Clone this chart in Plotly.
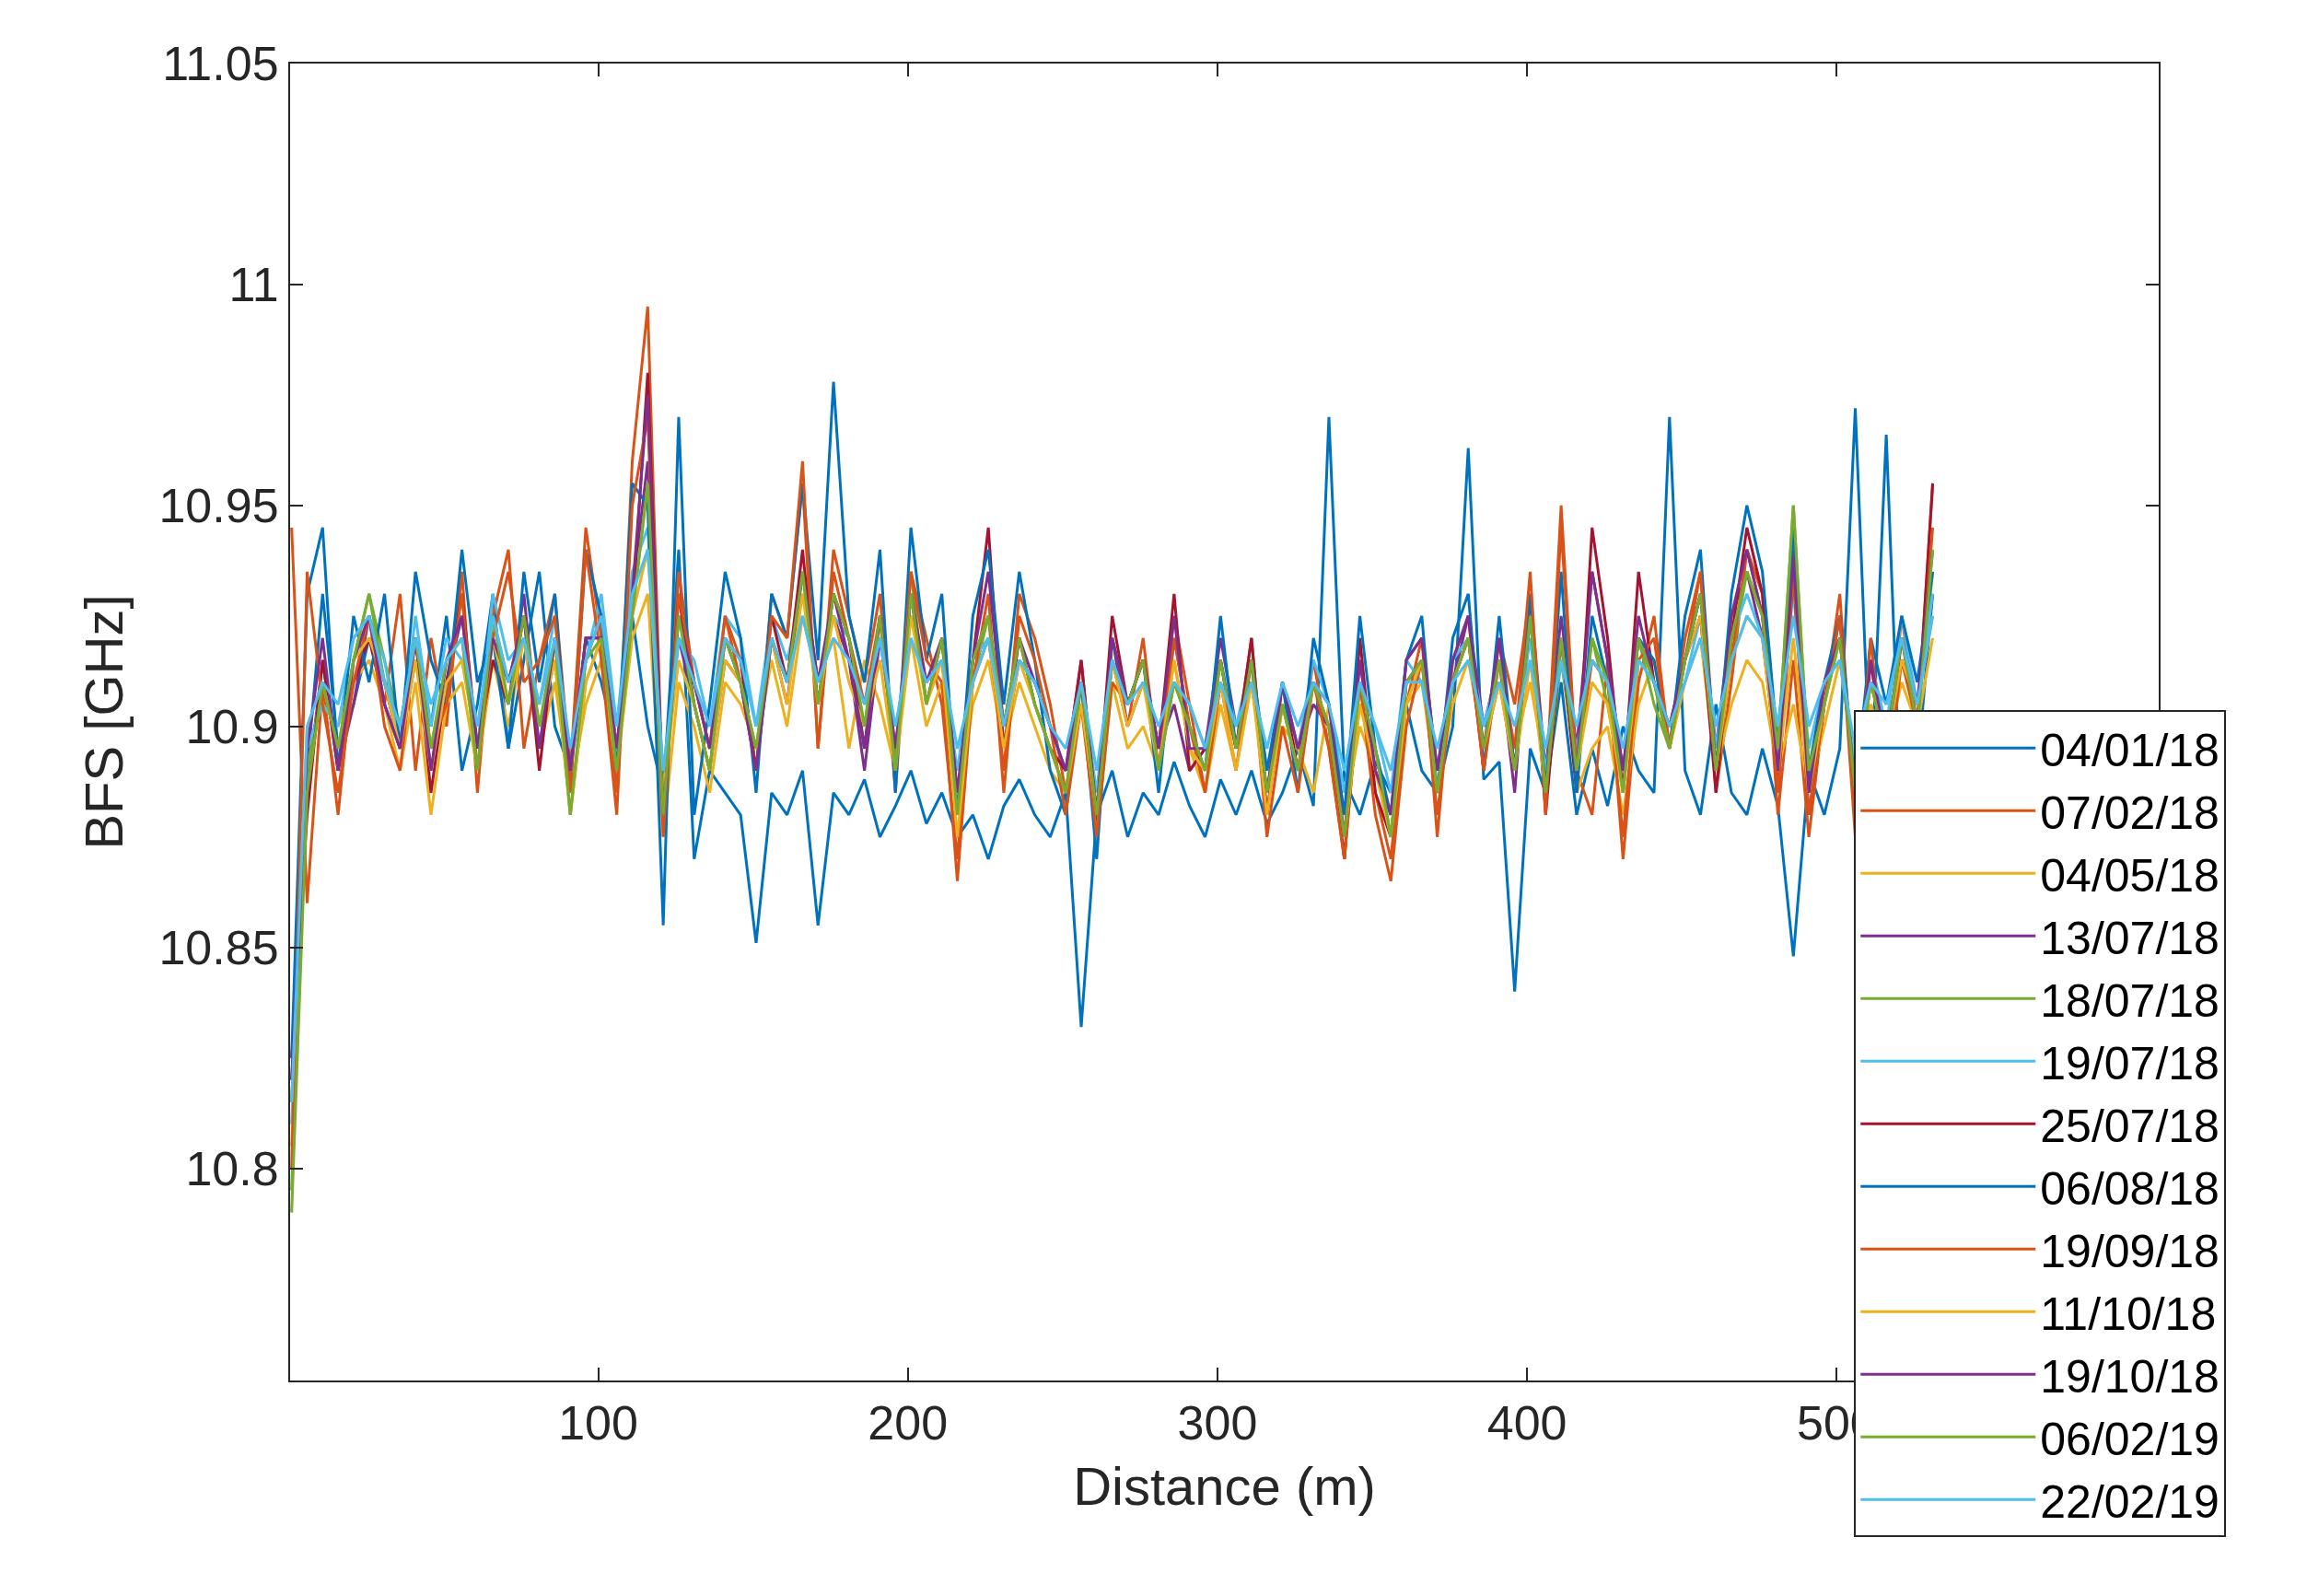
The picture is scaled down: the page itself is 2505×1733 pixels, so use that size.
import numpy as np
import plotly.graph_objects as go

# BFS readings every 5 m, stored as offset from 10.9 GHz in MHz
dates = ["04/01/18", "07/02/18", "04/05/18", "13/07/18", "18/07/18", "19/07/18",
         "25/07/18", "06/08/18", "19/09/18", "11/10/18", "19/10/18", "06/02/19", "22/02/19"]
colors = ["#0072BD", "#D95319", "#EDB120", "#7E2F8E", "#77AC30", "#4DBEEE",
          "#A2142F", "#0072BD", "#D95319", "#EDB120", "#7E2F8E", "#77AC30", "#4DBEEE"]
step_m = 5
start_m = 1

s_0401 = [-85,-10,30,-5,5,20,10,-5,15,0, 25,-10,5,30,-5,15,35,0,-10,20, 10,-5,25,0,-15,40,-30,-10,-15,-20,
          -49,-15,-20,-10,-45,-15,-20,-12,-25,-18, -10,-22,-15,-25,-20,-30,-18,-12,-20,-25, -15,-68,-20,-10,-25,-15,-20,-8,-18,-25,
          -12,-20,-10,-22,-15,-5,-18,70,-12,-20, -8,-15,5,-10,-15,0,63,-12,-8,-60, -5,-15,10,-20,-5,-18,0,-10,-15,70,
          -10,-20,5,-15,-20,-5,-18,-52,-10,-20, -5,72,-15,66,-25,-10,30]
s_0702 = [45,-40,10,-20,15,25,5,30,-10,20, 0,35,-15,25,40,-5,15,30,-10,45, 20,-15,60,95,-20,35,10,-5,25,15,
          -10,30,20,55,-5,40,25,10,30,-15, 35,20,5,-30,15,25,-10,30,20,5, -15,10,-25,15,0,20,-10,25,5,-15,
          10,-5,20,-20,5,-10,15,-5,-30,10, -15,-30,5,20,-25,15,25,-10,20,5, 30,-15,50,-10,-20,15,-30,10,25,-5,
          20,35,-15,10,40,30,-20,15,-25,5, 30,-20,15,-10,25,0,55]
s_0405 = [-95,-5,5,0,10,15,5,-10,10,-20, 5,10,-10,15,0,20,-5,10,-15,5, 15,-10,20,30,-25,10,0,-15,10,5,
          -5,15,0,25,10,20,-5,15,5,-10, 20,0,10,-20,5,15,-5,10,0,-10, -15,5,-25,10,-5,0,-10,15,-5,-15,
          5,-10,10,-15,0,-5,-15,5,-20,0, -10,-20,5,10,-15,5,15,-5,10,-5, 10,-10,20,-15,-5,0,-20,5,15,-5,
          10,20,-10,5,15,10,-10,5,-15,0, 15,-10,5,-5,10,0,20]
s_1307 = [-80,-15,15,-10,5,25,10,-5,20,-10, 10,25,-5,20,5,30,-5,20,-10,15, 25,-5,30,60,-15,20,5,-10,15,10,
          -10,20,5,35,10,25,15,-10,20,-5, 25,10,15,-15,10,20,-5,15,10,0, -10,15,-20,20,0,10,-5,5,-10,-5,
          20,0,10,-15,10,-5,5,0,-25,15, -10,-20,15,20,-10,10,25,0,15,-15, 30,-10,25,-5,35,15,-10,20,10,0,
          15,30,-5,25,35,20,-10,40,-15,10, 20,-15,10,0,15,5,30]
s_1807 = [-105,-10,10,-5,15,30,15,0,20,-5, 15,20,-10,25,10,25,0,15,-20,10, 20,-10,25,55,-20,25,10,-5,20,10,
          -5,20,10,35,5,30,20,0,25,-10, 35,5,20,-20,10,25,0,20,5,-5, -15,10,-20,15,5,15,-10,10,0,-10,
          15,-5,10,-15,5,-10,10,0,-25,5, -5,-25,10,15,-15,10,20,-5,10,-10, 25,-15,15,-10,20,5,-15,20,5,-5,
          15,30,-10,15,35,25,-5,50,-10,5, 20,-15,10,-5,20,0,35]
s_1907 = [-90,-5,5,0,20,25,15,-5,25,0, 20,15,-5,30,15,20,5,25,-10,15, 30,0,35,45,-15,20,15,0,25,20,
          0,25,15,30,10,25,20,5,20,-5, 25,10,15,-10,15,20,0,15,10,0, -10,10,-15,20,5,15,-5,10,5,-5,
          15,0,15,-10,10,-5,15,5,-15,10, 0,-15,15,10,-10,15,20,0,15,-5, 20,-10,15,-5,15,10,-10,20,10,0,
          10,25,-5,20,30,20,0,30,-5,10, 15,-10,15,0,25,5,30]
s_2507 = [-75,-20,15,-10,10,20,5,-5,20,-15, 10,30,-5,15,5,25,-10,20,-10,20, 20,-5,25,80,-20,30,5,-10,20,15,
          -10,25,10,40,5,30,20,-5,25,-10, 30,5,20,-15,15,45,-5,20,5,-5, -10,15,-20,25,5,15,-5,30,-10,-5,
          15,-5,20,-20,10,-10,10,0,-30,20, -15,-25,10,15,-15,10,20,-10,20,-10, 30,-20,20,-15,45,20,-15,35,10,-5,
          15,25,-15,20,45,30,-15,35,-20,5, 25,-20,15,-10,20,0,55]
s_0608 = [-75,30,45,-10,25,10,30,-5,35,15, 5,40,10,20,-5,35,10,30,-15,40, 25,-10,55,50,-45,70,-20,5,35,20,
          -15,30,20,55,15,78,25,10,40,-15, 45,15,30,-20,25,40,5,35,15,-10, -20,10,-30,20,5,15,-15,20,0,-10,
          25,-5,15,-10,10,-15,20,5,-20,25, -5,-20,15,25,-15,20,30,-10,25,-10, 30,-15,35,-15,25,10,-10,20,15,-5,
          25,40,-10,30,50,35,-5,45,-10,10, 25,-15,20,5,25,10,35]
s_1909 = [-100,35,5,-15,10,25,0,-10,20,-5, 5,30,-10,20,35,10,15,25,-15,40, 15,-20,50,70,-25,30,10,-5,25,10,
          -10,25,20,60,-5,35,20,5,25,-10, 35,15,10,-35,10,30,-15,25,15,0, -20,5,-25,10,5,15,-10,20,0,-15,
          10,-10,15,-25,0,-15,10,-5,-30,10, -20,-35,0,15,-20,10,20,-10,15,-5, 35,-20,45,-10,15,10,-25,15,20,-5,
          15,35,-10,15,40,25,-15,35,-20,5, 25,-25,20,-15,15,0,45]
s_1110 = [-85,0,10,-5,15,20,10,-5,15,-10, 10,15,-5,20,5,20,0,15,-20,10, 20,-5,25,40,-15,15,5,-10,15,10,
          -5,20,5,30,5,25,10,0,15,-10, 25,5,15,-25,10,20,-5,15,5,-5, -15,5,-20,15,0,10,-10,15,-5,-10,
          10,-10,10,-20,5,-10,10,0,-25,5, -10,-25,5,15,-15,10,20,-5,10,-10, 15,-15,20,-10,10,5,-15,15,10,-5,
          15,25,-10,15,25,20,-10,20,-15,5, 20,-15,10,-5,15,5,25]
s_1910 = [-80,-5,20,-10,15,25,5,-5,20,-10, 15,25,-5,20,10,25,-5,20,-10,20, 20,-5,30,75,-20,25,10,-5,20,10,
          -10,20,10,35,10,30,15,-5,25,-5, 30,10,20,-15,15,35,0,20,10,0, -10,10,-20,20,5,15,-5,25,-5,-5,
          15,-5,15,-15,10,-5,10,5,-25,15, -10,-20,15,20,-10,15,25,-5,20,-10, 25,-15,20,-10,35,15,-10,25,10,0,
          15,30,-10,25,40,25,-10,38,-15,10, 20,-15,15,-5,20,5,40]
s_0602 = [-110,-15,10,-5,15,30,10,0,20,-5, 15,20,-10,25,5,25,0,20,-20,15, 20,-10,25,55,-20,25,5,-10,20,10,
          -5,20,10,35,5,30,20,0,25,-10, 30,5,20,-20,15,25,0,20,5,-5, -15,10,-20,15,5,15,-10,10,0,-10,
          15,-5,15,-15,5,-10,10,0,-25,10, -5,-25,10,15,-15,10,20,-5,15,-10, 25,-15,20,-10,20,10,-15,20,10,-5,
          15,30,-10,20,35,25,-5,50,-10,5, 20,-15,10,-5,20,0,40]
s_2202 = [-85,0,10,5,20,25,10,0,20,5, 15,20,0,25,10,20,5,20,-5,15, 25,0,30,40,-10,20,10,0,20,15,
          0,20,10,25,10,20,15,5,20,0, 20,10,15,-5,10,20,0,15,10,0, -5,10,-10,15,5,10,0,10,5,-5,
          10,0,10,-5,10,0,10,5,-10,10, 0,-10,10,10,-5,10,15,0,10,0, 15,-5,15,0,15,10,-5,15,10,0,
          10,20,0,15,25,20,0,25,0,10, 15,-5,10,5,20,5,25]

series = [s_0401, s_0702, s_0405, s_1307, s_1807, s_1907, s_2507,
          s_0608, s_1909, s_1110, s_1910, s_0602, s_2202]

ytick_vals = [10.8, 10.85, 10.9, 10.95, 11.0, 11.05]
ytick_text = ["10.8", "10.85", "10.9", "10.95", "11", "11.05"]
xtick_vals = [100, 200, 300, 400, 500]

fig = go.Figure()
for name, col, vals in zip(dates, colors, series):
    x = start_m + step_m * np.arange(len(vals))
    y = 10.9 + np.array(vals) / 1000.0
    fig.add_trace(go.Scatter(x=x, y=y, mode="lines", name=name,
                             line=dict(color=col, width=3)))

axis_common = dict(showline=True, linecolor="#262626", linewidth=2, mirror="ticks",
                   ticks="inside", ticklen=14, tickwidth=2, tickcolor="#262626",
                   showgrid=False, zeroline=False,
                   tickfont=dict(size=52, color="#262626"))

fig.update_layout(
    width=2505, height=1733,
    paper_bgcolor="white", plot_bgcolor="white",
    font=dict(family="Liberation Sans, Arial, sans-serif", color="#262626"),
    margin=dict(l=307, r=169, t=61, b=242),
    xaxis=dict(range=[0.5, 604], tickvals=xtick_vals,
               title=dict(text="Distance (m)", font=dict(size=58), standoff=20),
               **axis_common),
    yaxis=dict(range=[10.752, 11.05], tickvals=ytick_vals, ticktext=ytick_text,
               title=dict(text="BFS [GHz]", font=dict(size=58), standoff=20),
               **axis_common),
    legend=dict(x=0.837, y=0.509, xanchor="left", yanchor="top",
                bgcolor="white", bordercolor="#262626", borderwidth=2,
                font=dict(size=50, color="#000000"), tracegroupgap=0,
                itemwidth=190),
)

fig.write_html("out.html")
